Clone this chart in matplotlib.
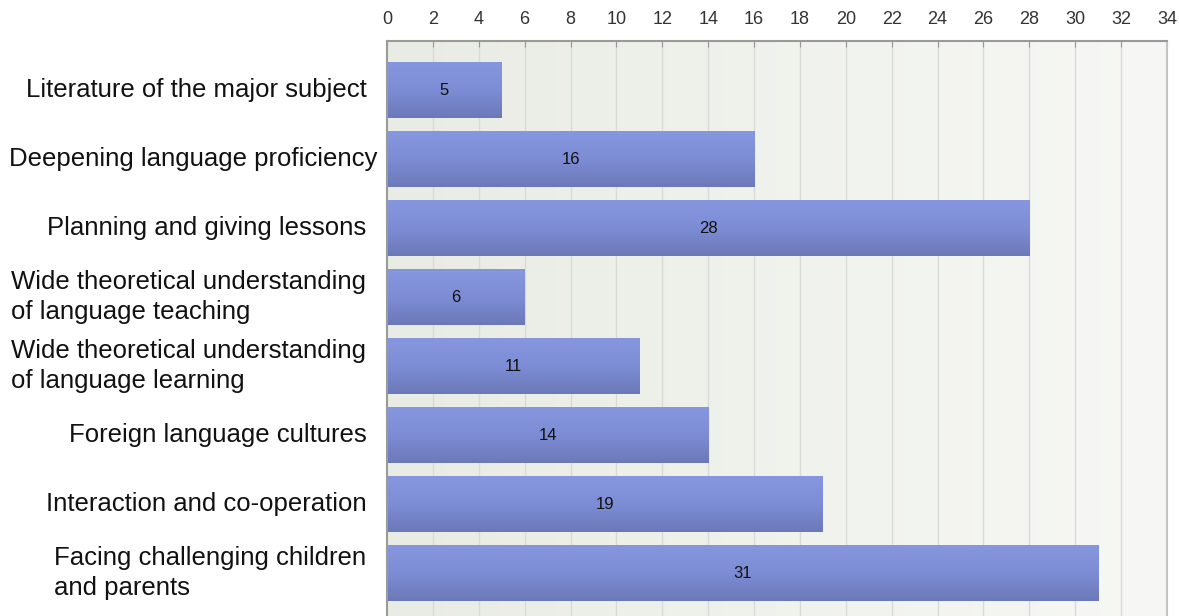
import numpy as np
import matplotlib.pyplot as plt
from matplotlib.colors import LinearSegmentedColormap

plt.rcParams['font.family'] = ['Liberation Sans', 'DejaVu Sans']

categories = [
    "Literature of the major subject",
    "Deepening language proficiency",
    "Planning and giving lessons",
    "Wide theoretical understanding\nof language teaching",
    "Wide theoretical understanding\nof language learning",
    "Foreign language cultures",
    "Interaction and co-operation",
    "Facing challenging children\nand parents",
]
counts = [5, 16, 28, 6, 11, 14, 19, 31]
x_ticks = list(range(0, 35, 2))

fig = plt.figure(figsize=(11.79, 6.16), dpi=100)
ax = fig.add_axes([387 / 1179, 0, 780 / 1179, 1 - 41 / 616])

ymin, ymax = 7.62, -0.71
ax.set_xlim(0, 34)
ax.set_ylim(ymin, ymax)

# plot area background: soft horizontal gradient
bg = LinearSegmentedColormap.from_list("bg", ["#e9ece4", "#f7f8f5"])
ax.imshow(np.linspace(0, 1, 256).reshape(1, -1), cmap=bg, aspect="auto",
          extent=(0, 34, ymin, ymax), zorder=0)

for x in x_ticks[1:-1]:
    ax.axvline(x, color="#d9dbd6", lw=1, zorder=1)

# bars with vertical shading
bar_cmap = LinearSegmentedColormap.from_list("bar", ["#8797df", "#7d8dd5", "#6c79b8"])
grad = np.linspace(0, 1, 64).reshape(-1, 1)
h = 0.81
for i, v in enumerate(counts):
    ax.imshow(grad, cmap=bar_cmap, aspect="auto",
              extent=(0, v, i + h / 2, i - h / 2), zorder=2)
    ax.text(v / 2, i, str(v), ha="center", va="center", fontsize=12,
            color="#111111", zorder=3)

ax.set_xlim(0, 34)
ax.set_ylim(ymin, ymax)

ax.xaxis.tick_top()
ax.set_xticks(x_ticks)
ax.tick_params(axis="x", direction="in", length=4, color="#999999",
               labelsize=13, labelcolor="#333333", pad=9)
ax.set_yticks([])

for s in ["top", "left"]:
    ax.spines[s].set_color("#9a9a9a")
    ax.spines[s].set_linewidth(1.5)
ax.spines["right"].set_color("#c4c4c4")
ax.spines["right"].set_linewidth(1.5)
ax.spines["bottom"].set_visible(False)

for i, lab in enumerate(categories):
    # the widest one-line label sits a little closer to the axis
    xpos = -0.4 if lab.startswith("Deepening") else -0.9
    ax.text(xpos, i, lab, ha="right", va="center", fontsize=18.5,
            multialignment="left", color="#111111",
            linespacing=1.3)

fig.savefig("out.png", dpi=100)
